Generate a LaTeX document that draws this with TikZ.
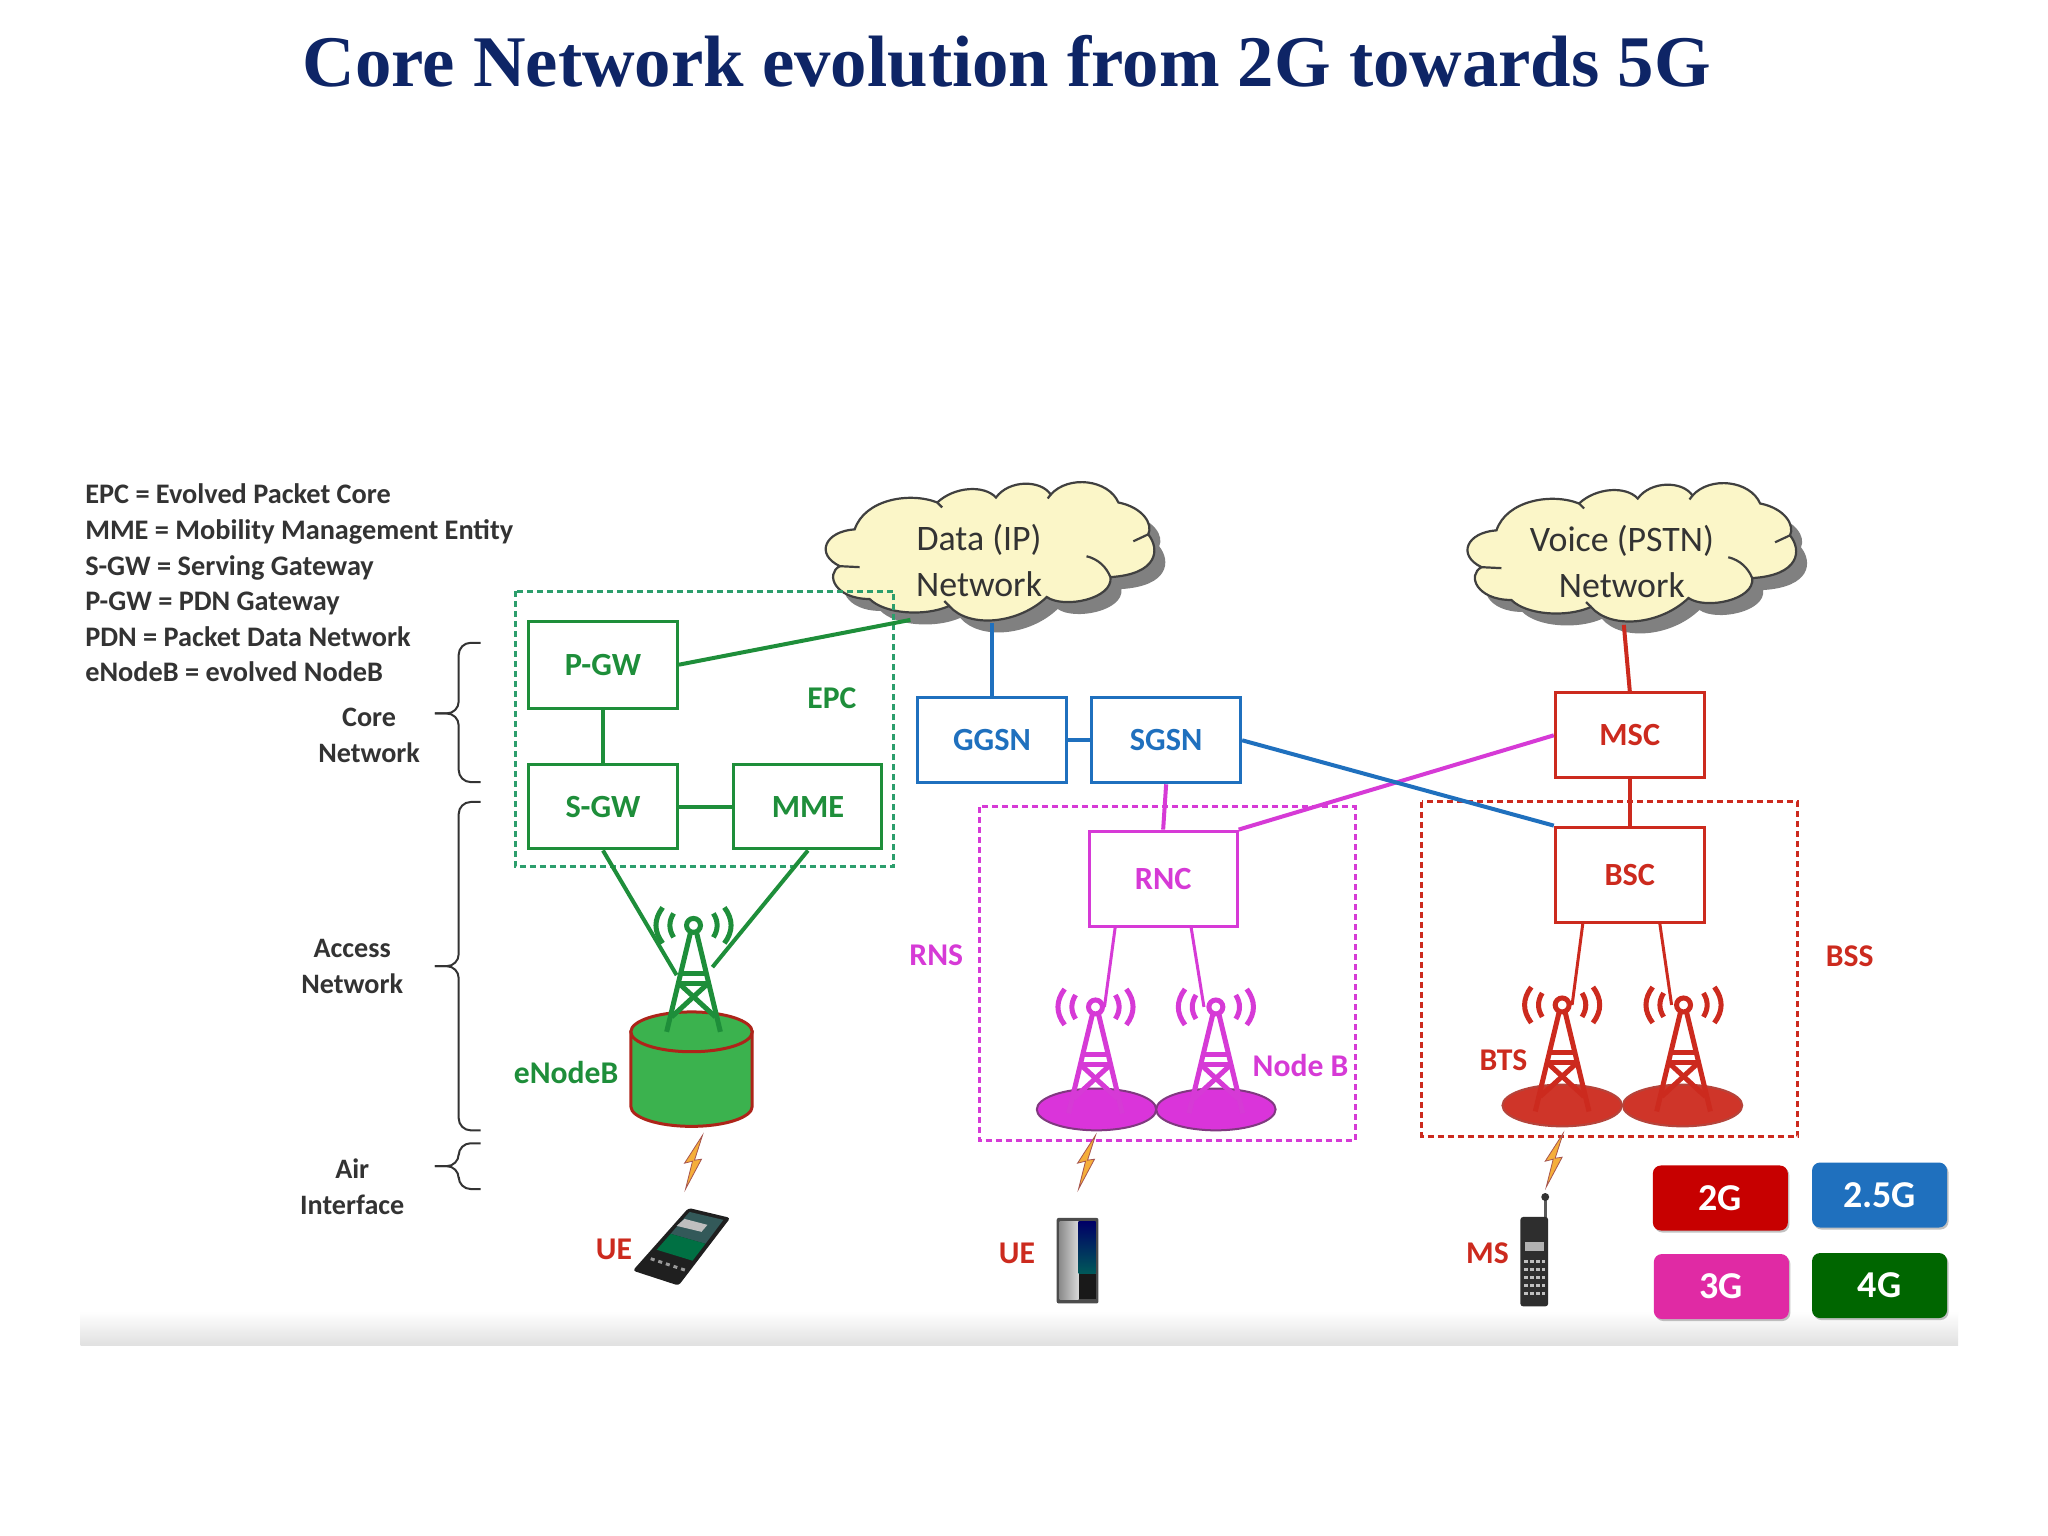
\documentclass[tikz,border=0pt]{standalone}
\usepackage{fontspec}
\setmainfont{Carlito}
\newfontfamily\headfont{Liberation Serif}
\usepackage{xcolor}
\usetikzlibrary{shadows,calc}

\definecolor{navyhead}{HTML}{0E2566}
\definecolor{lte}{HTML}{1E8E3A}
\definecolor{epcdash}{HTML}{2C9E6C}
\definecolor{gprs}{HTML}{1F70BE}
\definecolor{umts}{HTML}{D63AD6}
\definecolor{gsm}{HTML}{CC2A1E}
\definecolor{cloudy}{HTML}{FBF6C8}
\definecolor{textgrey}{HTML}{333333}
\definecolor{boltfill}{HTML}{F5AE3A}
\definecolor{key3gfill}{HTML}{E02AA4}

\newcommand{\radiomast}[3]{
\begin{scope}[shift={(#1,#2)},draw=#3,line width=.05cm]
\draw (0,0) circle (7);
\draw (-3,7) -- (-27,107);
\draw (3,7) -- (27,107);
\draw (-14,48) -- (14,48);
\draw (-16,58) -- (16,58);
\draw (-15,58) -- (22,92);
\draw (15,58) -- (-22,92);
\draw (-20,-12) .. controls (-25,-4) and (-25,4) .. (-20,12);
\draw (20,-12) .. controls (25,-4) and (25,4) .. (20,12);
\draw (-31,-18) .. controls (-40,-6) and (-40,6) .. (-31,18);
\draw (31,-18) .. controls (40,-6) and (40,6) .. (31,18);
\end{scope}}

\newcommand{\airbolt}[2]{
\fill[fill=boltfill,draw=gsm!50!gray,line width=.008cm,shift={(#1,#2)}]
(10,-27) -- (-8,1) -- (0,-1) -- (-7,27) -- (9,-3) -- (2,-2) -- cycle;}

\newcommand{\cloudline}{(45,60) .. controls (55,30) and (100,22) .. (128,33)
.. controls (145,17) and (175,15) .. (187,28)
.. controls (200,10) and (232,10) .. (242,25)
.. controls (260,5) and (300,10) .. (310,33)
.. controls (335,38) and (345,55) .. (340,65)
.. controls (352,80) and (350,105) .. (302,108)
.. controls (305,130) and (255,140) .. (238,128)
.. controls (210,155) and (160,160) .. (140,137)
.. controls (115,148) and (75,145) .. (60,130)
.. controls (25,130) and (15,105) .. (30,97)
.. controls (5,85) and (15,62) .. (45,60) -- cycle}

\newcommand{\netcloud}[2]{
\begin{scope}[shift={(#1,#2)}]
\fill[black!50,shift={(11,12)}] \cloudline;
\draw[fill=cloudy,draw=black!75,line width=.022cm] \cloudline;
\draw[black!75,line width=.022cm] (340,65) -- (325,72);
\draw[black!75,line width=.022cm] (278,87) .. controls (290,90) and (298,98) .. (302,108);
\draw[black!75,line width=.022cm] (30,97) -- (50,98);
\draw[black!75,line width=.022cm] (128,33) -- (133,38);
\draw[black!75,line width=.022cm] (140,137) -- (135,132);
\draw[black!75,line width=.022cm] (242,25) -- (239,29);
\end{scope}}

\newcommand{\layerbrace}[3]{
\draw[textgrey,line width=.02cm,rounded corners=.12cm] (483,#1) -- (461,#1) -- (461,#2) -- (437,#2);
\draw[textgrey,line width=.02cm,rounded corners=.12cm] (483,#3) -- (461,#3) -- (461,#2) -- (437,#2);}

\tikzset{
netbox/.style={draw=#1,text=#1,fill=white,line width=.03cm,inner sep=0pt,font=\fontsize{9.2}{11}\bfseries\selectfont},
netbox/.default=black,
groupbox/.style={dash pattern=on .06cm off .04cm,line width=.03cm},
link/.style={line width=.04cm},
legendline/.style={anchor=base west,inner sep=0pt,text=textgrey,font=\fontsize{8.05}{9}\bfseries\selectfont},
layertext/.style={text=textgrey,align=center,font=\fontsize{8}{10.2}\bfseries\selectfont},
tag/.style={font=\fontsize{9}{11}\bfseries\selectfont},
cloudtext/.style={text=textgrey,align=center,font=\fontsize{10.2}{13}\selectfont},
keybox/.style={rounded corners=.08cm,text=white,minimum width=1.35cm,minimum height=.65cm,inner sep=0pt,
  font=\fontsize{10.8}{12}\bfseries\selectfont,drop shadow={shadow xshift=.015cm,shadow yshift=-.02cm,fill=black!40,opacity=.6}}
}

\begin{document}
\begin{tikzpicture}[x=.00995cm,y=-.00995cm]
\useasboundingbox (0,0) rectangle (2058.3,1543.7);
\fill[white] (0,0) rectangle (2058.3,1543.7);
\shade[top color=white,bottom color=black!12] (81,1318) rectangle (1968,1352);

\node (title) at (1012,62) {\headfont\fontsize{20.7}{24}\bfseries\selectfont\color{navyhead}Core Network evolution from 2G towards 5G};

\node[legendline] (epcdef) at (85,506) {EPC = Evolved Packet Core};
\node[legendline] (mmedef) at (85,542) {MME = Mobility Management Entity};
\node[legendline] (sgwdef) at (85,578) {S-GW = Serving Gateway};
\node[legendline] (pgwdef) at (85,614) {P-GW = PDN Gateway};
\node[legendline] (pdndef) at (85,650) {PDN = Packet Data Network};
\node[legendline] (enbdef) at (85,685) {eNodeB = evolved NodeB};

\node[layertext] (corelayer) at (371,739) {Core\\Network};
\node[layertext] (accesslayer) at (354,971) {Access\\Network};
\node[layertext] (airlayer) at (354,1193) {Air\\Interface};
\layerbrace{646}{717}{786}
\layerbrace{806}{971}{1136}
\layerbrace{1149}{1172}{1195}

% clouds
\netcloud{814}{472}
\netcloud{1459}{473}
\node[cloudtext] (datatext) at (984,563) {Data (IP)\\Network};
\node[cloudtext] (voicetext) at (1630,564) {Voice (PSTN)\\Network};
\coordinate (datafoot) at (997,626);
\coordinate (voicefoot) at (1632,628);
\coordinate (dataedge) at (915,623);

% 4G
\node[netbox=lte,minimum width=1.49cm,minimum height=.87cm] (pgw) at (606,668) {P-GW};
\node[netbox=lte,minimum width=1.49cm,minimum height=.84cm] (sgw) at (606,811) {S-GW};
\node[netbox=lte,minimum width=1.48cm,minimum height=.84cm] (mme) at (812,811) {MME};
\draw[groupbox,draw=epcdash] (518,594) rectangle (898,871);
\node[tag,text=lte] (epc) at (836,702) {EPC};
\coordinate (masta) at (680,980);
\coordinate (mastb) at (716,972);
\draw[link,draw=lte] (pgw.east) -- (dataedge);
\draw[link,draw=lte] (pgw) -- (sgw);
\draw[link,draw=lte] (sgw) -- (mme);
\draw[link,draw=lte] (sgw.south) -- (masta);
\draw[link,draw=lte] (mme.south) -- (mastb);
\draw[fill=lte!80!green!85!white,draw=gsm!85!black,line width=.03cm] (634,1037) -- (634,1112) arc (180:0:61 and 20) -- (756,1037) -- cycle;
\draw[fill=lte!80!green!85!white,draw=gsm!85!black,line width=.03cm] (695,1037) ellipse (61 and 20);
\radiomast{697}{930}{lte}
\node[tag,text=lte] (enb) at (569,1078) {eNodeB};

% 2.5G
\node[netbox=gprs,minimum width=1.49cm,minimum height=.85cm] (ggsn) at (997,744) {GGSN};
\node[netbox=gprs,minimum width=1.49cm,minimum height=.85cm] (sgsn) at (1172,744) {SGSN};
\draw[link,draw=gprs] (ggsn.north) -- (datafoot);
\draw[link,draw=gprs] (ggsn) -- (sgsn);

% 3G
\node[netbox=umts,minimum width=1.48cm,minimum height=.95cm] (rnc) at (1169,883) {RNC};
\draw[groupbox,draw=umts] (984,811) rectangle (1362,1146);
\node[tag,text=umts] (rns) at (941,960) {RNS};
\draw[link,draw=umts] (sgsn.south) -- (rnc.north);
\draw[fill=umts!90!magenta,draw=violet!55!gray,line width=.02cm] (1102,1115) ellipse (60 and 21);
\draw[fill=umts!90!magenta,draw=violet!55!gray,line width=.02cm] (1222,1115) ellipse (60 and 21);
\radiomast{1101}{1012}{umts}
\radiomast{1222}{1012}{umts}
\coordinate (nodeba) at (1110,1012);
\coordinate (nodebb) at (1210,1012);
\draw[link,line width=.03cm,draw=umts] ([xshift=-.48cm]rnc.south) -- (nodeba);
\draw[link,line width=.03cm,draw=umts] ([xshift=.28cm]rnc.south) -- (nodebb);
\node[tag,text=umts] (nodeb) at (1307,1071) {Node B};

% 2G
\node[netbox=gsm,minimum width=1.49cm,minimum height=.85cm] (msc) at (1638,739) {MSC};
\node[netbox=gsm,minimum width=1.49cm,minimum height=.95cm] (bsc) at (1638,879) {BSC};
\draw[groupbox,draw=gsm] (1429,806) rectangle (1807,1142);
\node[tag,text=gsm] (bss) at (1859,961) {BSS};
\draw[link,draw=gsm] (msc.north) -- (voicefoot);
\draw[link,draw=gsm] (msc) -- (bsc);
\draw[fill=gsm!95!white,draw=gsm!70!gray,line width=.02cm] (1570,1111) ellipse (60 and 21);
\draw[fill=gsm!95!white,draw=gsm!70!gray,line width=.02cm] (1691,1111) ellipse (60 and 21);
\radiomast{1570}{1010}{gsm}
\radiomast{1692}{1010}{gsm}
\coordinate (btsa) at (1580,1010);
\coordinate (btsb) at (1680,1010);
\draw[link,line width=.03cm,draw=gsm] ([xshift=-.47cm]bsc.south) -- (btsa);
\draw[link,line width=.03cm,draw=gsm] ([xshift=.3cm]bsc.south) -- (btsb);
\node[tag,text=gsm] (bts) at (1511,1066) {BTS};

% cross links
\draw[link,draw=umts] (msc.west) -- (rnc.north east);
\draw[link,draw=gprs] (sgsn.east) -- (bsc.north west);

% air interface
\airbolt{696}{1168}
\airbolt{1091}{1168}
\airbolt{1561}{1166}

% terminals
\node[tag,text=gsm] (uea) at (617,1256) {UE};
\node[tag,text=gsm] (ueb) at (1022,1260) {UE};
\node[tag,text=gsm] (ms) at (1495,1260) {MS};
\fill[black!88,rounded corners=.03cm] (636,1277) -- (682,1292) -- (734,1224) -- (692,1214) -- cycle;
\fill[black!50!teal!60!gray] (674,1240) -- (709,1250) -- (727,1226) -- (693,1218) -- cycle;
\fill[teal!75!green!70!black] (660,1256) -- (696,1267) -- (709,1250) -- (674,1240) -- cycle;
\fill[black!25] (680,1232) -- (705,1238) -- (711,1231) -- (688,1225) -- cycle;
\draw[black!40,line width=.03cm,dash pattern=on .04cm off .04cm] (654,1265) -- (690,1277);

\fill[black!70,rounded corners=.02cm] (1062,1224) rectangle (1104,1310);
\shade[left color=black!45,right color=black!15] (1065,1228) rectangle (1084,1306);
\shade[top color=blue!40!black,bottom color=teal!70!black] (1084,1228) rectangle (1101,1280);
\fill[black!90] (1084,1280) rectangle (1101,1306);

\draw[black!65,line width=.03cm] (1553,1204) -- (1553,1225);
\fill[black!80] (1553,1203) circle (4);
\fill[black!82,rounded corners=.03cm] (1528,1223) rectangle (1556,1313);
\fill[black!30] (1533,1248) rectangle (1552,1257);
\draw[black!25,line width=.035cm,dash pattern=on .035cm off .025cm] (1532,1268) -- (1553,1268);
\draw[black!25,line width=.035cm,dash pattern=on .035cm off .025cm] (1532,1276) -- (1553,1276);
\draw[black!25,line width=.035cm,dash pattern=on .035cm off .025cm] (1532,1284) -- (1553,1284);
\draw[black!25,line width=.035cm,dash pattern=on .035cm off .025cm] (1532,1292) -- (1553,1292);
\draw[black!25,line width=.035cm,dash pattern=on .035cm off .025cm] (1532,1300) -- (1553,1300);

% key
\node[keybox,fill=red!78!black] (key2g) at (1729,1204) {2G};
\node[keybox,fill=gprs] (key25g) at (1889,1201) {2.5G};
\node[keybox,fill=key3gfill] (key3g) at (1730,1293) {3G};
\node[keybox,fill=green!40!black] (key4g) at (1889,1292) {4G};
\end{tikzpicture}
\end{document}
